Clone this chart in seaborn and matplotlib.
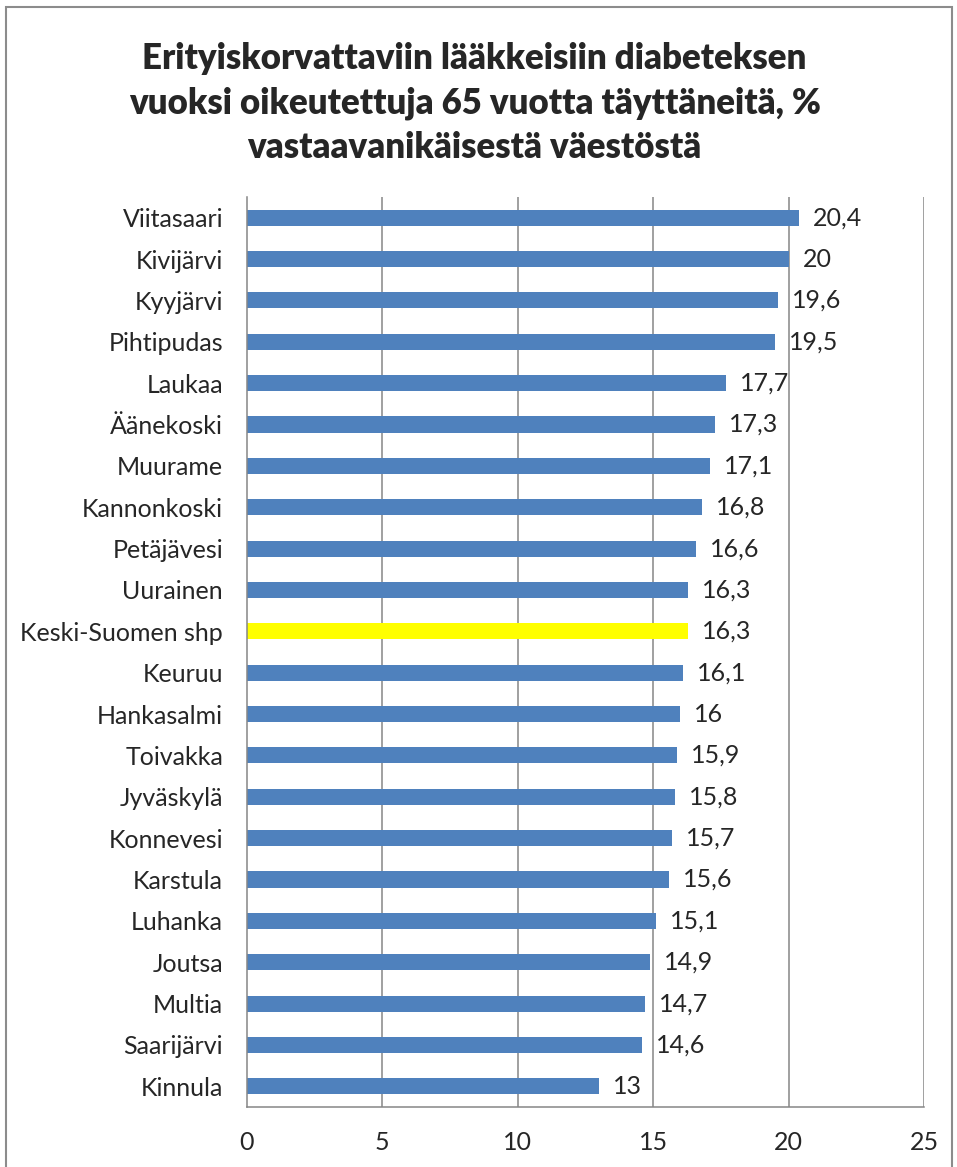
import seaborn as sns
import matplotlib.pyplot as plt
import matplotlib.patches as patches
import pandas as pd

# Data
kunnat = ['Viitasaari', 'Kivijärvi', 'Kyyjärvi', 'Pihtipudas', 'Laukaa', 'Äänekoski',
          'Muurame', 'Kannonkoski', 'Petäjävesi', 'Uurainen', 'Keski-Suomen shp',
          'Keuruu', 'Hankasalmi', 'Toivakka', 'Jyväskylä', 'Konnevesi', 'Karstula',
          'Luhanka', 'Joutsa', 'Multia', 'Saarijärvi', 'Kinnula']
osuus = [20.4, 20, 19.6, 19.5, 17.7, 17.3, 17.1, 16.8, 16.6, 16.3, 16.3,
         16.1, 16, 15.9, 15.8, 15.7, 15.6, 15.1, 14.9, 14.7, 14.6, 13]
korostettu = 'Keski-Suomen shp'
x_ticks = [0, 5, 10, 15, 20, 25]

title = ('Erityiskorvattaviin lääkkeisiin diabeteksen\n'
         'vuoksi oikeutettuja 65 vuotta täyttäneitä, %\n'
         'vastaavanikäisestä väestöstä')

df = pd.DataFrame({'kunta': kunnat, 'osuus': osuus})
colors = {k: ('#FFFF00' if k == korostettu else '#4F81BD') for k in kunnat}

sns.set_style('white')
plt.rcParams['font.family'] = ['Lato', 'DejaVu Sans']
grid_col = '#868686'

fig = plt.figure(figsize=(9.57, 11.67), dpi=100)
ax = fig.add_axes([0.2578, 0.0514, 0.7077, 0.7798])

sns.barplot(data=df, x='osuus', y='kunta', hue='kunta', palette=colors,
            orient='h', width=0.39, legend=False, ax=ax, saturation=1,
            edgecolor='none')

ax.set_xlim(0, 25)
ax.set_ylim(len(kunnat) - 0.5, -0.5)
ax.set_xticks(x_ticks)
ax.set_xticklabels([str(t) for t in x_ticks], fontsize=18)
ax.tick_params(axis='x', length=6, width=1.1, color=grid_col, pad=11)
ax.tick_params(axis='y', which='major', length=0, labelsize=18, pad=17)
ax.set_yticks([i - 0.5 for i in range(len(kunnat) + 1)], minor=True)
ax.tick_params(axis='y', which='minor', length=6, width=1.1, color=grid_col, direction='out')
ax.set_xlabel('')
ax.set_ylabel('')

for t in x_ticks[1:]:
    ax.axvline(t, color=grid_col, lw=1.1, zorder=0)

for side in ['top', 'right']:
    ax.spines[side].set_visible(False)
for side in ['left', 'bottom']:
    ax.spines[side].set_color(grid_col)
    ax.spines[side].set_linewidth(1.1)

# value labels with comma decimals
for cont in ax.containers:
    vals = cont.datavalues
    ax.bar_label(cont, labels=[f'{v:g}'.replace('.', ',') for v in vals],
                 padding=10, fontsize=18)

fig.text(0.496, 0.9117, title, ha='center', va='center', fontsize=25,
         fontweight='heavy', linespacing=1.42)

# outer chart border
fig.patches.append(patches.Rectangle((6 / 957, -0.01), 946 / 957, 1.01 - 7 / 1167,
                                     transform=fig.transFigure, fill=False,
                                     edgecolor='#8c8c8c', lw=1.5))

plt.savefig('out.png', dpi=100)
